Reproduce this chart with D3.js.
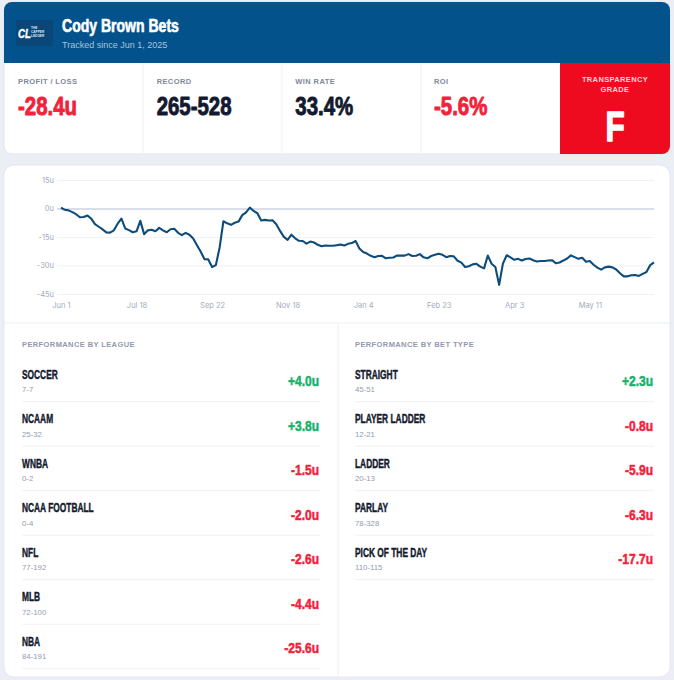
<!DOCTYPE html>
<html>
<head>
<style>
  body { margin: 0; background: #eceef5; }
  svg { display: block; }
  .cond { font-family: "Liberation Sans", Arial, sans-serif; font-weight: 700; paint-order: stroke; }
  .sans { font-family: "Liberation Sans", Inter, sans-serif; }
  .axis text { font-family: Inter, "Liberation Sans", sans-serif; font-size: 7.5px; fill: #a3abbb; }
</style>
</head>
<body>
<script src="https://d3js.org/d3.v7.min.js"></script>
<script>
var width = 674, height = 680;

// header stats
var statLabels = ["PROFIT / LOSS", "RECORD", "WIN RATE", "ROI"];
var statValues = ["-28.4u", "265-528", "33.4%", "-5.6%"];
var statNegative = [true, false, false, true];
var grade = "F";

// cumulative units, one value per tracked day
var profit = [
  0.5, -0.7, -1.0, -1.9, -3.0, -4.6, -4.5, -3.7, -5.3, -8.2,
  -9.6, -11.0, -12.6, -12.7, -11.5, -8.0, -5.3, -10.5, -11.4, -12.5,
  -12.0, -6.5, -13.5, -11.5, -11.2, -12.0, -10.2, -11.5, -12.5, -10.9,
  -10.7, -12.8, -14.0, -12.8, -13.8, -15.8, -19.3, -22.8, -26.7, -26.8,
  -30.8, -29.8, -20.5, -6.7, -7.8, -8.6, -7.5, -6.9, -3.5, -2.0,
  0.5, -1.3, -2.5, -6.3, -6.0, -6.3, -6.2, -8.3, -11.8, -14.9,
  -16.5, -13.8, -15.7, -17.0, -17.1, -18.5, -17.4, -17.9, -19.1, -19.9,
  -19.5, -19.6, -19.6, -19.3, -19.0, -19.5, -18.6, -18.2, -17.1, -21.0,
  -22.9, -23.7, -24.9, -25.6, -25.0, -24.9, -26.2, -25.9, -25.8, -24.7,
  -24.8, -24.8, -24.0, -25.0, -24.9, -24.0, -25.7, -26.2, -25.0, -24.4,
  -23.8, -24.4, -25.6, -25.0, -25.2, -27.5, -28.5, -30.8, -30.4, -29.4,
  -29.1, -30.6, -31.5, -24.8, -29.1, -30.8, -40.2, -29.0, -24.6, -25.7,
  -27.0, -26.5, -27.4, -26.6, -26.3, -27.2, -27.9, -27.6, -27.6, -27.4,
  -27.2, -28.8, -28.4, -27.4, -26.3, -24.7, -25.6, -26.5, -25.9, -28.0,
  -27.6, -29.6, -31.1, -32.2, -31.0, -30.6, -31.0, -32.1, -34.1, -35.7,
  -35.7, -35.1, -35.0, -35.5, -34.4, -33.4, -29.8, -28.4
];
var xTickIndex = [0, 20, 40, 60, 80, 100, 120, 140];
var xTickLabels = ["Jun 1", "Jul 18", "Sep 22", "Nov 18", "Jan 4", "Feb 23", "Apr 3", "May 11"];
var yTicks = [15, 0, -15, -30, -45];

// breakdowns
var leagues = ["SOCCER", "NCAAM", "WNBA", "NCAA FOOTBALL", "NFL", "MLB", "NBA"];
var leagueRecords = ["7-7", "25-32", "0-2", "0-4", "77-192", "72-100", "84-191"];
var leagueUnits = [4.0, 3.8, -1.5, -2.0, -2.6, -4.4, -25.6];
var betTypes = ["STRAIGHT", "PLAYER LADDER", "LADDER", "PARLAY", "PICK OF THE DAY"];
var betRecords = ["45-51", "12-21", "20-13", "78-328", "110-115"];
var betUnits = [2.3, -0.8, -5.9, -6.3, -17.7];

var red = "#f2223b", green = "#17b26a", navy = "#141a2e", blue = "#03528b";

var svg = d3.select("body").append("svg").attr("width", width).attr("height", height);
var defs = svg.append("defs");

// no condensed face installed, so squeeze a bold sans horizontally
// and thicken it a little with a stroke in the fill colour
function cond(parent, x, y, size, sx, txt, color) {
  return parent.append("text").attr("class", "cond")
    .attr("transform", "translate(" + x + "," + y + ") scale(" + sx + ",1)")
    .style("font-size", size + "px")
    .attr("fill", color).attr("stroke", color).attr("stroke-width", size * 0.035)
    .attr("stroke-linejoin", "round")
    .text(txt);
}

// ---- top card ----
defs.append("clipPath").attr("id", "topclip")
  .append("rect").attr("x", 4).attr("y", 2).attr("width", 666).attr("height", 152).attr("rx", 8);

svg.append("rect").attr("x", 4).attr("y", 2).attr("width", 666).attr("height", 152).attr("rx", 8)
  .attr("fill", "#fff").attr("stroke", "#e2e5ee");

var topG = svg.append("g").attr("clip-path", "url(#topclip)");
topG.append("rect").attr("x", 4).attr("y", 2).attr("width", 666).attr("height", 61).attr("fill", blue);
topG.append("rect").attr("x", 560).attr("y", 63).attr("width", 110).attr("height", 91).attr("fill", "#ee0a1f");

// logo
svg.append("rect").attr("x", 16).attr("y", 20).attr("width", 37).attr("height", 26).attr("fill", "#0a4677");
cond(svg, 18, 38, 12, 0.8, "CL", "#fff").style("font-style", "italic");
["THE", "CAPPER", "LEDGER"].forEach(function(t, i) {
  svg.append("text").attr("x", 31).attr("y", 29 + i * 4).attr("class", "sans")
    .style("font-size", "3.2px").style("font-weight", 700).attr("fill", "#dfe8f2").text(t);
});

cond(svg, 62, 32, 18, 0.78, "Cody Brown Bets", "#fff");
svg.append("text").attr("x", 62).attr("y", 48).attr("class", "sans")
  .style("font-size", "9px").attr("fill", "#a9c2dc").text("Tracked since Jun 1, 2025");

var statX = d3.scalePoint().domain(d3.range(statLabels.length)).range([18, 434]);
[143, 282, 421].forEach(function(x) {
  svg.append("line").attr("x1", x).attr("x2", x).attr("y1", 63).attr("y2", 154)
    .attr("stroke", "#f0f1f5");
});
statLabels.forEach(function(l, i) {
  svg.append("text").attr("x", statX(i)).attr("y", 84).attr("class", "sans")
    .style("font-size", "7.5px").style("font-weight", 700).style("letter-spacing", "0.4px")
    .attr("fill", "#7f889a").text(l);
  cond(svg, statX(i), 115, 25.5, 0.8, statValues[i], statNegative[i] ? red : navy);
});

svg.append("text").attr("x", 615).attr("y", 82).attr("text-anchor", "middle").attr("class", "sans")
  .style("font-size", "7.5px").style("font-weight", 700).style("letter-spacing", "0.35px")
  .attr("fill", "#ffd3d8").text("TRANSPARENCY");
svg.append("text").attr("x", 615).attr("y", 92).attr("text-anchor", "middle").attr("class", "sans")
  .style("font-size", "7.5px").style("font-weight", 700).style("letter-spacing", "0.35px")
  .attr("fill", "#ffd3d8").text("GRADE");
cond(svg, 615, 141, 42, 0.75, grade, "#fff").attr("text-anchor", "middle");

// ---- chart + breakdown card ----
svg.append("rect").attr("x", 4).attr("y", 165).attr("width", 666).attr("height", 512).attr("rx", 10)
  .attr("fill", "#fff").attr("stroke", "#e4e7ef");
svg.append("line").attr("x1", 4).attr("x2", 670).attr("y1", 323).attr("y2", 323).attr("stroke", "#eceef4");
svg.append("line").attr("x1", 338).attr("x2", 338).attr("y1", 323).attr("y2", 677).attr("stroke", "#eceef4");

var x = d3.scaleLinear().domain([0, profit.length - 1]).range([61, 654]);
var y = d3.scaleLinear().domain([-45, 15]).range([294, 180]);

var grid = svg.append("g").attr("class", "axis").attr("transform", "translate(57,0)")
  .call(d3.axisLeft(y).tickValues(yTicks).tickFormat(function(d) { return d + "u"; })
    .tickSize(-597).tickPadding(3));
grid.select(".domain").remove();
grid.selectAll("line").attr("stroke", function(d) { return d === 0 ? "#cdd3e3" : "#eff1f6"; })
  .attr("stroke-width", function(d) { return d === 0 ? 1.6 : 1; });
grid.selectAll("text").attr("x", -3);

var xa = svg.append("g").attr("class", "axis").attr("transform", "translate(0,300)")
  .call(d3.axisBottom(x).tickValues(xTickIndex)
    .tickFormat(function(d, i) { return xTickLabels[i]; }).tickSize(0).tickPadding(3));
xa.select(".domain").remove();

svg.append("path").datum(profit)
  .attr("fill", "none").attr("stroke", "#0e4c7c").attr("stroke-width", 2.1)
  .attr("stroke-linejoin", "round")
  .attr("d", d3.line().x(function(d, i) { return x(i); }).y(function(d) { return y(d); }));

// ---- breakdown lists ----
function fmt(v) { return (v > 0 ? "+" : "") + v.toFixed(1) + "u"; }

function list(title, names, records, units, x0, x1) {
  var g = svg.append("g");
  g.append("text").attr("x", x0).attr("y", 346.5).attr("class", "sans")
    .style("font-size", "7.5px").style("font-weight", 700).style("letter-spacing", "0.4px")
    .attr("fill", "#9199ad").text(title);
  var row = d3.scaleLinear().domain([0, 1]).range([374, 418.5]);
  names.forEach(function(n, i) {
    var cy = row(i);
    cond(g, x0, cy + 4.8, 12.5, 0.67, n, navy);
    g.append("text").attr("x", x0).attr("y", cy + 18).attr("class", "sans")
      .style("font-size", "7.8px").attr("fill", "#949cae").text(records[i]);
    cond(g, x1, cy + 12.3, 15.4, 0.78, fmt(units[i]), units[i] >= 0 ? green : red)
      .attr("text-anchor", "end");
    g.append("line").attr("x1", x0).attr("x2", x1 + 1).attr("y1", cy + 27.7).attr("y2", cy + 27.7)
      .attr("stroke", "#f0f1f6");
  });
}
list("PERFORMANCE BY LEAGUE", leagues, leagueRecords, leagueUnits, 22, 319);
list("PERFORMANCE BY BET TYPE", betTypes, betRecords, betUnits, 355, 653);
</script>
</body>
</html>
